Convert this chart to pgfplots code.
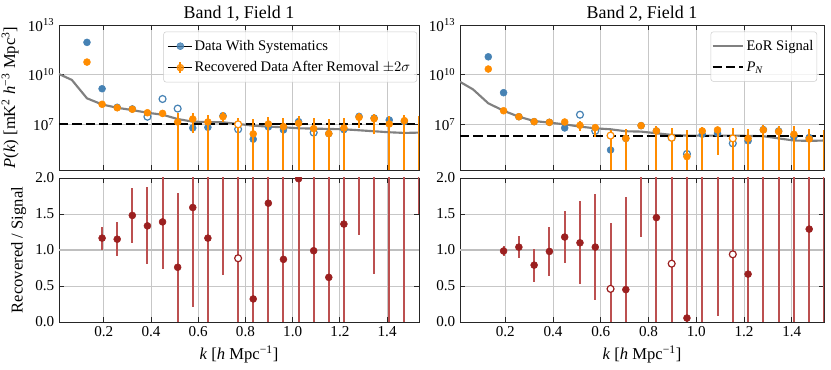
\documentclass[border=0pt]{standalone}
\usepackage{fontspec}
\setmainfont{Liberation Serif}
\usepackage{pgfplots}
\pgfplotsset{compat=1.18}
\definecolor{sysblue}{HTML}{4682B4}
\definecolor{recorange}{HTML}{FF8C00}
\definecolor{ratiored}{HTML}{9B2020}
\definecolor{ratiobar}{HTML}{BC5050}
\definecolor{sigline}{HTML}{808080}

\pgfplotsset{
  mypanel/.style={scale only axis, xmin=0.0105, xmax=1.535,
    axis line style={black!85, line width=0.7bp},
    tick align=inside, major tick length=4bp,
    tick style={black!85, line width=0.6bp},
    grid=major, major grid style={black!22, line width=0.7bp},
    xtick={0.2,0.4,0.6,0.8,1.0,1.2,1.4},
    clip marker paths=true,
    tick label style={font=\fontsize{11.4}{13}\selectfont},
    label style={font=\fontsize{12.5}{15}\selectfont},
    every axis title/.style={at={(0.5,1)}, anchor=base, yshift=4.5bp,
      font=\fontsize{13.5}{16}\selectfont},
    legend cell align=left},
  mytop/.style={mypanel, height=108.75bp,
    ytick={1e7,1e10,1e13},
    yticklabels={10\textsuperscript{7},10\textsuperscript{10},10\textsuperscript{13}},
    xticklabels={}},
  mybot/.style={mypanel, ymin=0, ymax=2, height=108bp,
    ytick={0,0.5,1,1.5,2}, yticklabels={0.0,0.5,1.0,1.5,2.0},
    xticklabels={0.2,0.4,0.6,0.8,1.0,1.2,1.4},
    xlabel={\textit{k} [\textit{h} Mpc\textsuperscript{−1}]}},
  myleg/.style={legend style={draw=black!20, rounded corners=2bp,
    fill=white, fill opacity=0.8, text opacity=1,
    font=\fontsize{11}{13}\selectfont, row sep=3bp,
    inner ysep=4.25bp}},
  myfilled/.style={only marks, mark=*, mark size=2.6bp, mark options={draw=#1, fill=#1}},
  myhollow/.style={only marks, mark=*, mark size=2.6bp, mark options={draw=#1, fill=white, line width=0.9bp}},
  mybars/.style={recorange, line width=1.5bp, unbounded coords=jump, forget plot},
  mylongline/.style={legend image code/.code={\draw[##1] (0cm,0cm) -- (0.8cm,0cm);}},
  mydot/.style={legend image code/.code={
     \path (0cm,0cm) -- (0.63cm,0cm);
     \fill[#1] (0.33cm,0cm) circle (2.6bp);}},
  mydotbar/.style={legend image code/.code={
     \path (0cm,0cm) -- (0.63cm,0cm);
     \draw[#1, line width=1.5bp] (0.33cm,-0.14cm) -- (0.33cm,0.14cm);
     \fill[#1] (0.33cm,0cm) circle (2.6bp);}},
  myratiobars/.style={error bars/.cd, y dir=both, y explicit,
    error bar style={ratiobar, line width=1.5bp}, error mark=none},
}

\begin{document}
\begin{tikzpicture}
\path[use as bounding box] (0,0) rectangle (623.25bp,277.5bp);

% ---------------- Band 1, top
\begin{axis}[ymode=log, ymin=1.74e4, ymax=1e13, mytop,
  at={(44.25bp,150bp)}, anchor=south west, width=270bp,
  title={Band 1, Field 1},
  ylabel={\textit{P}(\textit{k}) [mK\textsuperscript{2} \textit{h}\textsuperscript{−3} Mpc\textsuperscript{3}]},
  myleg, legend style={at={(0.995,0.955)}, anchor=north east, inner xsep=3bp}]
\addplot[sigline, line width=1.6bp, forget plot] coordinates {
 (0.010,1.10e10) (0.065,4.79e9) (0.129,3.72e8) (0.193,1.58e8) (0.257,1.00e8)
 (0.321,7.24e7) (0.385,5.01e7) (0.449,3.80e7) (0.513,2.09e7) (0.577,1.45e7)
 (0.641,1.35e7) (0.705,1.32e7) (0.769,1.05e7) (0.833,8.32e6) (0.897,7.24e6)
 (0.961,6.61e6) (1.025,5.75e6) (1.089,5.50e6) (1.153,5.25e6) (1.217,5.01e6)
 (1.281,4.37e6) (1.345,3.80e6) (1.409,3.31e6) (1.473,3.02e6) (1.537,3.16e6)};
\addplot[black, line width=1.5bp, dash pattern=on 7bp off 3bp, forget plot]
  coordinates {(0.0105,1e7) (1.535,1e7)};
\addplot[myfilled=sysblue, mydot=sysblue] coordinates {
 (0.129,8.91e11) (0.193,1.41e9) (0.257,1.07e8) (0.321,8.51e7) (0.577,6.03e6)
 (0.641,6.61e6) (0.705,3.31e7) (0.833,1.26e6) (0.897,6.92e6) (0.961,4.57e6)
 (1.025,1.45e7) (1.153,2.75e6) (1.217,4.79e6) (1.281,3.02e7) (1.345,2.40e7)
 (1.409,1.82e7) (1.473,1.45e7)};
\addlegendentry{Data With Systematics}
\addplot[myhollow=sysblue, forget plot] coordinates {
 (0.385,2.88e7) (0.449,3.39e8) (0.513,8.91e7) (0.769,5.01e6) (1.089,3.16e6)
 (1.537,2.95e6)};
\addplot[mybars] coordinates {
 (0.193,1.41e8) (0.193,1.86e8) (nan,nan) (0.257,8.13e7) (0.257,1.23e8) (nan,nan)
 (0.321,6.03e7) (0.321,1.02e8) (nan,nan) (0.385,3.02e7) (0.385,7.08e7) (nan,nan)
 (0.449,2.63e7) (0.449,7.24e7) (nan,nan) (0.513,1e2) (0.513,4.57e7) (nan,nan)
 (0.577,2.88e6) (0.577,4.57e7) (nan,nan) (0.641,1e2) (0.641,3.63e7) (nan,nan)
 (0.705,1.45e7) (0.705,5.75e7) (nan,nan) (0.769,1e2) (0.769,2.51e7) (nan,nan)
 (0.833,1e2) (0.833,2.09e7) (nan,nan) (0.897,1e2) (0.897,2.88e7) (nan,nan)
 (0.961,1e2) (0.961,2.51e7) (nan,nan) (1.025,1e2) (1.025,3.16e7) (nan,nan)
 (1.089,1e2) (1.089,2.51e7) (nan,nan) (1.153,1e2) (1.153,2.09e7) (nan,nan)
 (1.217,1e2) (1.217,2.51e7) (nan,nan) (1.281,5.75e6) (1.281,4.57e7) (nan,nan)
 (1.345,2.51e6) (1.345,3.98e7) (nan,nan) (1.409,1e2) (1.409,3.16e7) (nan,nan)
 (1.473,1e2) (1.473,3.63e7) (nan,nan) (1.537,1e2) (1.537,3.02e7)};
\addplot[myfilled=recorange, mydotbar=recorange] coordinates {
 (0.129,5.75e10) (0.193,1.62e8) (0.257,1.00e8) (0.321,8.13e7) (0.385,5.01e7)
 (0.449,4.57e7) (0.513,1.38e7) (0.577,2.09e7) (0.641,1.38e7) (0.705,2.88e7)
 (0.833,2.63e6) (0.897,1.05e7) (0.961,7.24e6) (1.025,1.15e7) (1.089,5.50e6)
 (1.153,2.75e6) (1.217,6.03e6) (1.281,2.63e7) (1.345,2.19e7) (1.409,1.05e7)
 (1.473,1.66e7)};
\addlegendentry{Recovered Data After Removal $\pm2\sigma$}
\addplot[myhollow=recorange, forget plot] coordinates {(0.769,1.00e7) (1.537,1.15e7)};
\end{axis}

% ---------------- Band 1, ratio
\begin{axis}[mybot, at={(44.25bp,36bp)}, anchor=south west, width=270bp,
  ylabel={Recovered / Signal}]
\addplot[black!25, line width=1.1bp, forget plot] coordinates {(0.0105,1) (1.535,1)};
\addplot[myfilled=ratiored, myratiobars] coordinates {
 (0.193,1.165) +- (0,0.16) (0.257,1.15) +- (0,0.24) (0.321,1.48) +- (0,0.38)
 (0.385,1.335) +- (0,0.535) (0.449,1.39) +- (0,0.65) (0.513,0.76) +- (0,1.03)
 (0.577,1.59) +- (0,1.38) (0.641,1.165) +- (0,1.6) (0.705,2.30) +- (0,1.65)
 (0.833,0.32) +- (0,2.0) (0.897,1.65) +- (0,1.8) (0.961,0.87) +- (0,1.5)
 (1.025,1.99) +- (0,2.2) (1.089,0.99) +- (0,1.5) (1.153,0.62) +- (0,1.6)
 (1.217,1.36) +- (0,1.6) (1.281,2.60) +- (0,1.39) (1.345,2.40) +- (0,1.73)
 (1.409,2.20) +- (0,2.5) (1.473,2.30) +- (0,2.5)};
\addplot[myhollow=ratiored, myratiobars] coordinates {
 (0.769,0.885) +- (0,1.5) (1.537,2.50) +- (0,1.0)};
\end{axis}

% ---------------- Band 2, top
\begin{axis}[ymode=log, ymin=1.74e4, ymax=1e13, mytop,
  at={(345bp,150bp)}, anchor=south west, width=273bp,
  title={Band 2, Field 1},
  myleg, legend style={at={(0.981,0.955)}, anchor=north east, inner xsep=0.5bp}]
\addplot[sigline, line width=1.6bp, mylongline] coordinates {
 (0.010,3.72e9) (0.065,1.29e9) (0.129,1.86e8) (0.193,6.61e7) (0.257,2.88e7)
 (0.321,1.58e7) (0.385,1.26e7) (0.449,1.00e7) (0.513,7.24e6) (0.577,5.75e6)
 (0.641,5.01e6) (0.705,3.80e6) (0.769,3.63e6) (0.833,2.88e6) (0.897,2.29e6)
 (0.961,2.09e6) (1.025,2.09e6) (1.089,2.09e6) (1.153,2.09e6) (1.217,2.00e6)
 (1.281,1.91e6) (1.345,1.41e6) (1.409,1.05e6) (1.473,1.00e6) (1.537,1.05e6)};
\addlegendentry{EoR Signal}
\addplot[black, line width=1.5bp, dash pattern=on 7bp off 3bp, mylongline]
  coordinates {(0.0105,2.1e6) (1.535,2.1e6)};
\addlegendentry{\textit{P}\textsubscript{\textit{N}}}
\addplot[myfilled=sysblue, forget plot] coordinates {
 (0.129,1.20e11) (0.193,8.13e8) (0.257,2.88e7) (0.321,1.45e7) (0.385,1.32e7)
 (0.449,6.03e6) (0.641,2.82e5) (0.705,1.41e6) (0.769,8.32e6) (0.833,3.98e6)
 (1.025,2.51e6) (1.089,2.88e6) (1.217,1.00e6) (1.281,4.79e6) (1.345,3.98e6)
 (1.409,1.74e6) (1.473,1.58e6)};
\addplot[myhollow=sysblue, forget plot] coordinates {
 (0.513,3.80e7) (0.577,3.98e6) (0.897,1.55e6) (0.961,1.62e5) (1.153,7.08e5)
 (1.537,4.90e5)};
\addplot[mybars] coordinates {
 (0.193,6.17e7) (0.193,7.08e7) (nan,nan) (0.257,2.57e7) (0.257,3.24e7) (nan,nan)
 (0.321,1.26e7) (0.321,1.66e7) (nan,nan) (0.385,1.10e7) (0.385,1.55e7) (nan,nan)
 (0.449,1.10e7) (0.449,1.66e7) (nan,nan) (0.513,4.17e6) (0.513,1.58e7) (nan,nan)
 (0.577,1.78e6) (0.577,9.12e6) (nan,nan) (0.641,1e2) (0.641,4.57e6) (nan,nan)
 (0.705,1e2) (0.705,5.25e6) (nan,nan) (0.769,5.01e6) (0.769,1.26e7) (nan,nan)
 (0.833,1e2) (0.833,8.32e6) (nan,nan) (0.897,1e2) (0.897,5.75e6) (nan,nan)
 (0.961,1e2) (0.961,4.57e6) (nan,nan) (1.025,1e2) (1.025,7.24e6) (nan,nan)
 (1.089,1.41e5) (1.089,7.24e6) (nan,nan) (1.153,1e2) (1.153,5.75e6) (nan,nan)
 (1.217,1e2) (1.217,5.25e6) (nan,nan) (1.281,1e2) (1.281,9.12e6) (nan,nan)
 (1.345,1e2) (1.345,7.94e6) (nan,nan) (1.409,1e2) (1.409,7.59e6) (nan,nan)
 (1.473,1e2) (1.473,5.25e6) (nan,nan) (1.537,1e2) (1.537,4.37e6)};
\addplot[myfilled=recorange, forget plot] coordinates {
 (0.129,2.19e10) (0.193,6.61e7) (0.257,2.88e7) (0.321,1.45e7) (0.385,1.32e7)
 (0.449,1.38e7) (0.513,8.71e6) (0.577,6.31e6) (0.705,1.41e6) (0.769,8.32e6)
 (0.833,3.98e6) (0.961,1.12e5) (1.025,3.98e6) (1.089,4.57e6) (1.217,1.41e6)
 (1.281,4.57e6) (1.345,3.63e6) (1.409,2.51e6) (1.473,1.29e6)};
\addplot[myhollow=recorange, forget plot] coordinates {
 (0.641,2.09e6) (0.897,1.55e6) (1.153,1.41e6) (1.537,2.82e5)};
\end{axis}

% ---------------- Band 2, ratio
\begin{axis}[mybot, at={(345bp,36bp)}, anchor=south west, width=273bp]
\addplot[black!25, line width=1.1bp, forget plot] coordinates {(0.0105,1) (1.535,1)};
\addplot[myfilled=ratiored, myratiobars] coordinates {
 (0.193,0.986) +- (0,0.07) (0.257,1.04) +- (0,0.15) (0.321,0.79) +- (0,0.23)
 (0.385,0.98) +- (0,0.335) (0.449,1.18) +- (0,0.36) (0.513,1.10) +- (0,0.575)
 (0.577,1.04) +- (0,0.74) (0.705,0.45) +- (0,1.28) (0.769,2.40) +- (0,1.22)
 (0.833,1.45) +- (0,2.0) (0.961,0.055) +- (0,2.5) (1.025,2.20) +- (0,2.4)
 (1.089,2.30) +- (0,2.21) (1.217,0.665) +- (0,2.0) (1.281,2.30) +- (0,2.5)
 (1.345,2.20) +- (0,2.5) (1.409,2.10) +- (0,2.4) (1.473,1.29) +- (0,2.0)};
\addplot[myhollow=ratiored, myratiobars] coordinates {
 (0.641,0.46) +- (0,0.91) (0.897,0.81) +- (0,2.0) (1.153,0.94) +- (0,2.0)
 (1.537,0.265) +- (0,2.0)};
\end{axis}
\end{tikzpicture}
\end{document}
